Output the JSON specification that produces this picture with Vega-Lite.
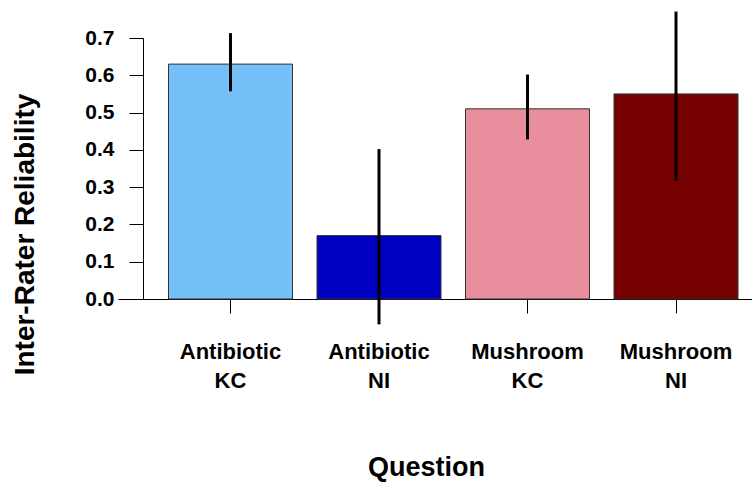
{
  "$schema": "https://vega.github.io/schema/vega-lite/v6.json",
  "autosize": {"type": "none"},
  "padding": {"left": 118, "top": 38, "right": 0, "bottom": 183},
  "width": 634,
  "height": 261,
  "background": "white",
  "config": {
    "view": {"stroke": null},
    "font": "Liberation Sans",
    "axisY": {
      "values": [0, 0.1, 0.2, 0.3, 0.4, 0.5, 0.6, 0.7],
      "format": ".1f",
      "offset": -25,
      "grid": false,
      "labelOverlap": false,
      "labelFlush": false,
      "labelFont": "Liberation Sans",
      "labelFontWeight": "bold",
      "labelFontSize": 21,
      "labelColor": "black",
      "labelPadding": 15,
      "tickSize": 14,
      "tickColor": "black",
      "domainColor": "black",
      "titleFont": "Liberation Sans",
      "titleFontWeight": "bold",
      "titleFontSize": 28,
      "titleColor": "black",
      "titleAngle": -90,
      "titleX": -110,
      "titleY": 196,
      "titleAlign": "center",
      "titleBaseline": "alphabetic"
    }
  },
  "data": {
    "values": [
      {"q": "Antibiotic|KC", "value": 0.63, "lo": 0.557, "hi": 0.713},
      {"q": "Antibiotic|NI", "value": 0.17, "lo": -0.068, "hi": 0.402},
      {"q": "Mushroom|KC", "value": 0.51, "lo": 0.428, "hi": 0.602},
      {"q": "Mushroom|NI", "value": 0.55, "lo": 0.317, "hi": 0.771}
    ]
  },
  "encoding": {
    "x": {
      "field": "q",
      "type": "nominal",
      "sort": null,
      "scale": {"paddingInner": 0.165, "paddingOuter": 0.2172, "align": 0.783},
      "axis": {
        "title": "Question",
        "labelExpr": "split(datum.label, '|')",
        "labelAngle": 0,
        "labelAlign": "center",
        "labelBaseline": "alphabetic",
        "labelFont": "Liberation Sans",
        "labelFontWeight": "bold",
        "labelFontSize": 22,
        "labelColor": "black",
        "labelLineHeight": 29.7,
        "labelPadding": 45,
        "labelOverlap": false,
        "tickSize": 14,
        "tickColor": "black",
        "domainColor": "black",
        "titleFont": "Liberation Sans",
        "titleFontWeight": "bold",
        "titleFontSize": 27,
        "titleColor": "black",
        "titleX": 308,
        "titleY": 176,
        "titleAlign": "center",
        "titleBaseline": "alphabetic"
      }
    }
  },
  "layer": [
    {
      "mark": {"type": "bar", "stroke": "#333333", "strokeWidth": 1},
      "encoding": {
        "y": {
          "field": "value",
          "type": "quantitative",
          "scale": {"domain": [0, 0.7], "nice": false, "zero": true},
          "axis": {"title": "Inter-Rater Reliability", "values": [0, 0.1, 0.2, 0.3, 0.4, 0.5, 0.6, 0.7]}
        },
        "color": {
          "field": "q",
          "type": "nominal",
          "scale": {
            "domain": ["Antibiotic|KC", "Antibiotic|NI", "Mushroom|KC", "Mushroom|NI"],
            "range": ["#75C0F8", "#0000C2", "#E88E9C", "#760000"]
          },
          "legend": null
        }
      }
    },
    {
      "mark": {"type": "rule", "color": "black", "strokeWidth": 3},
      "encoding": {
        "y": {"field": "lo", "type": "quantitative", "axis": {"title": "Inter-Rater Reliability", "values": [0, 0.1, 0.2, 0.3, 0.4, 0.5, 0.6, 0.7]}},
        "y2": {"field": "hi"}
      }
    }
  ]
}
